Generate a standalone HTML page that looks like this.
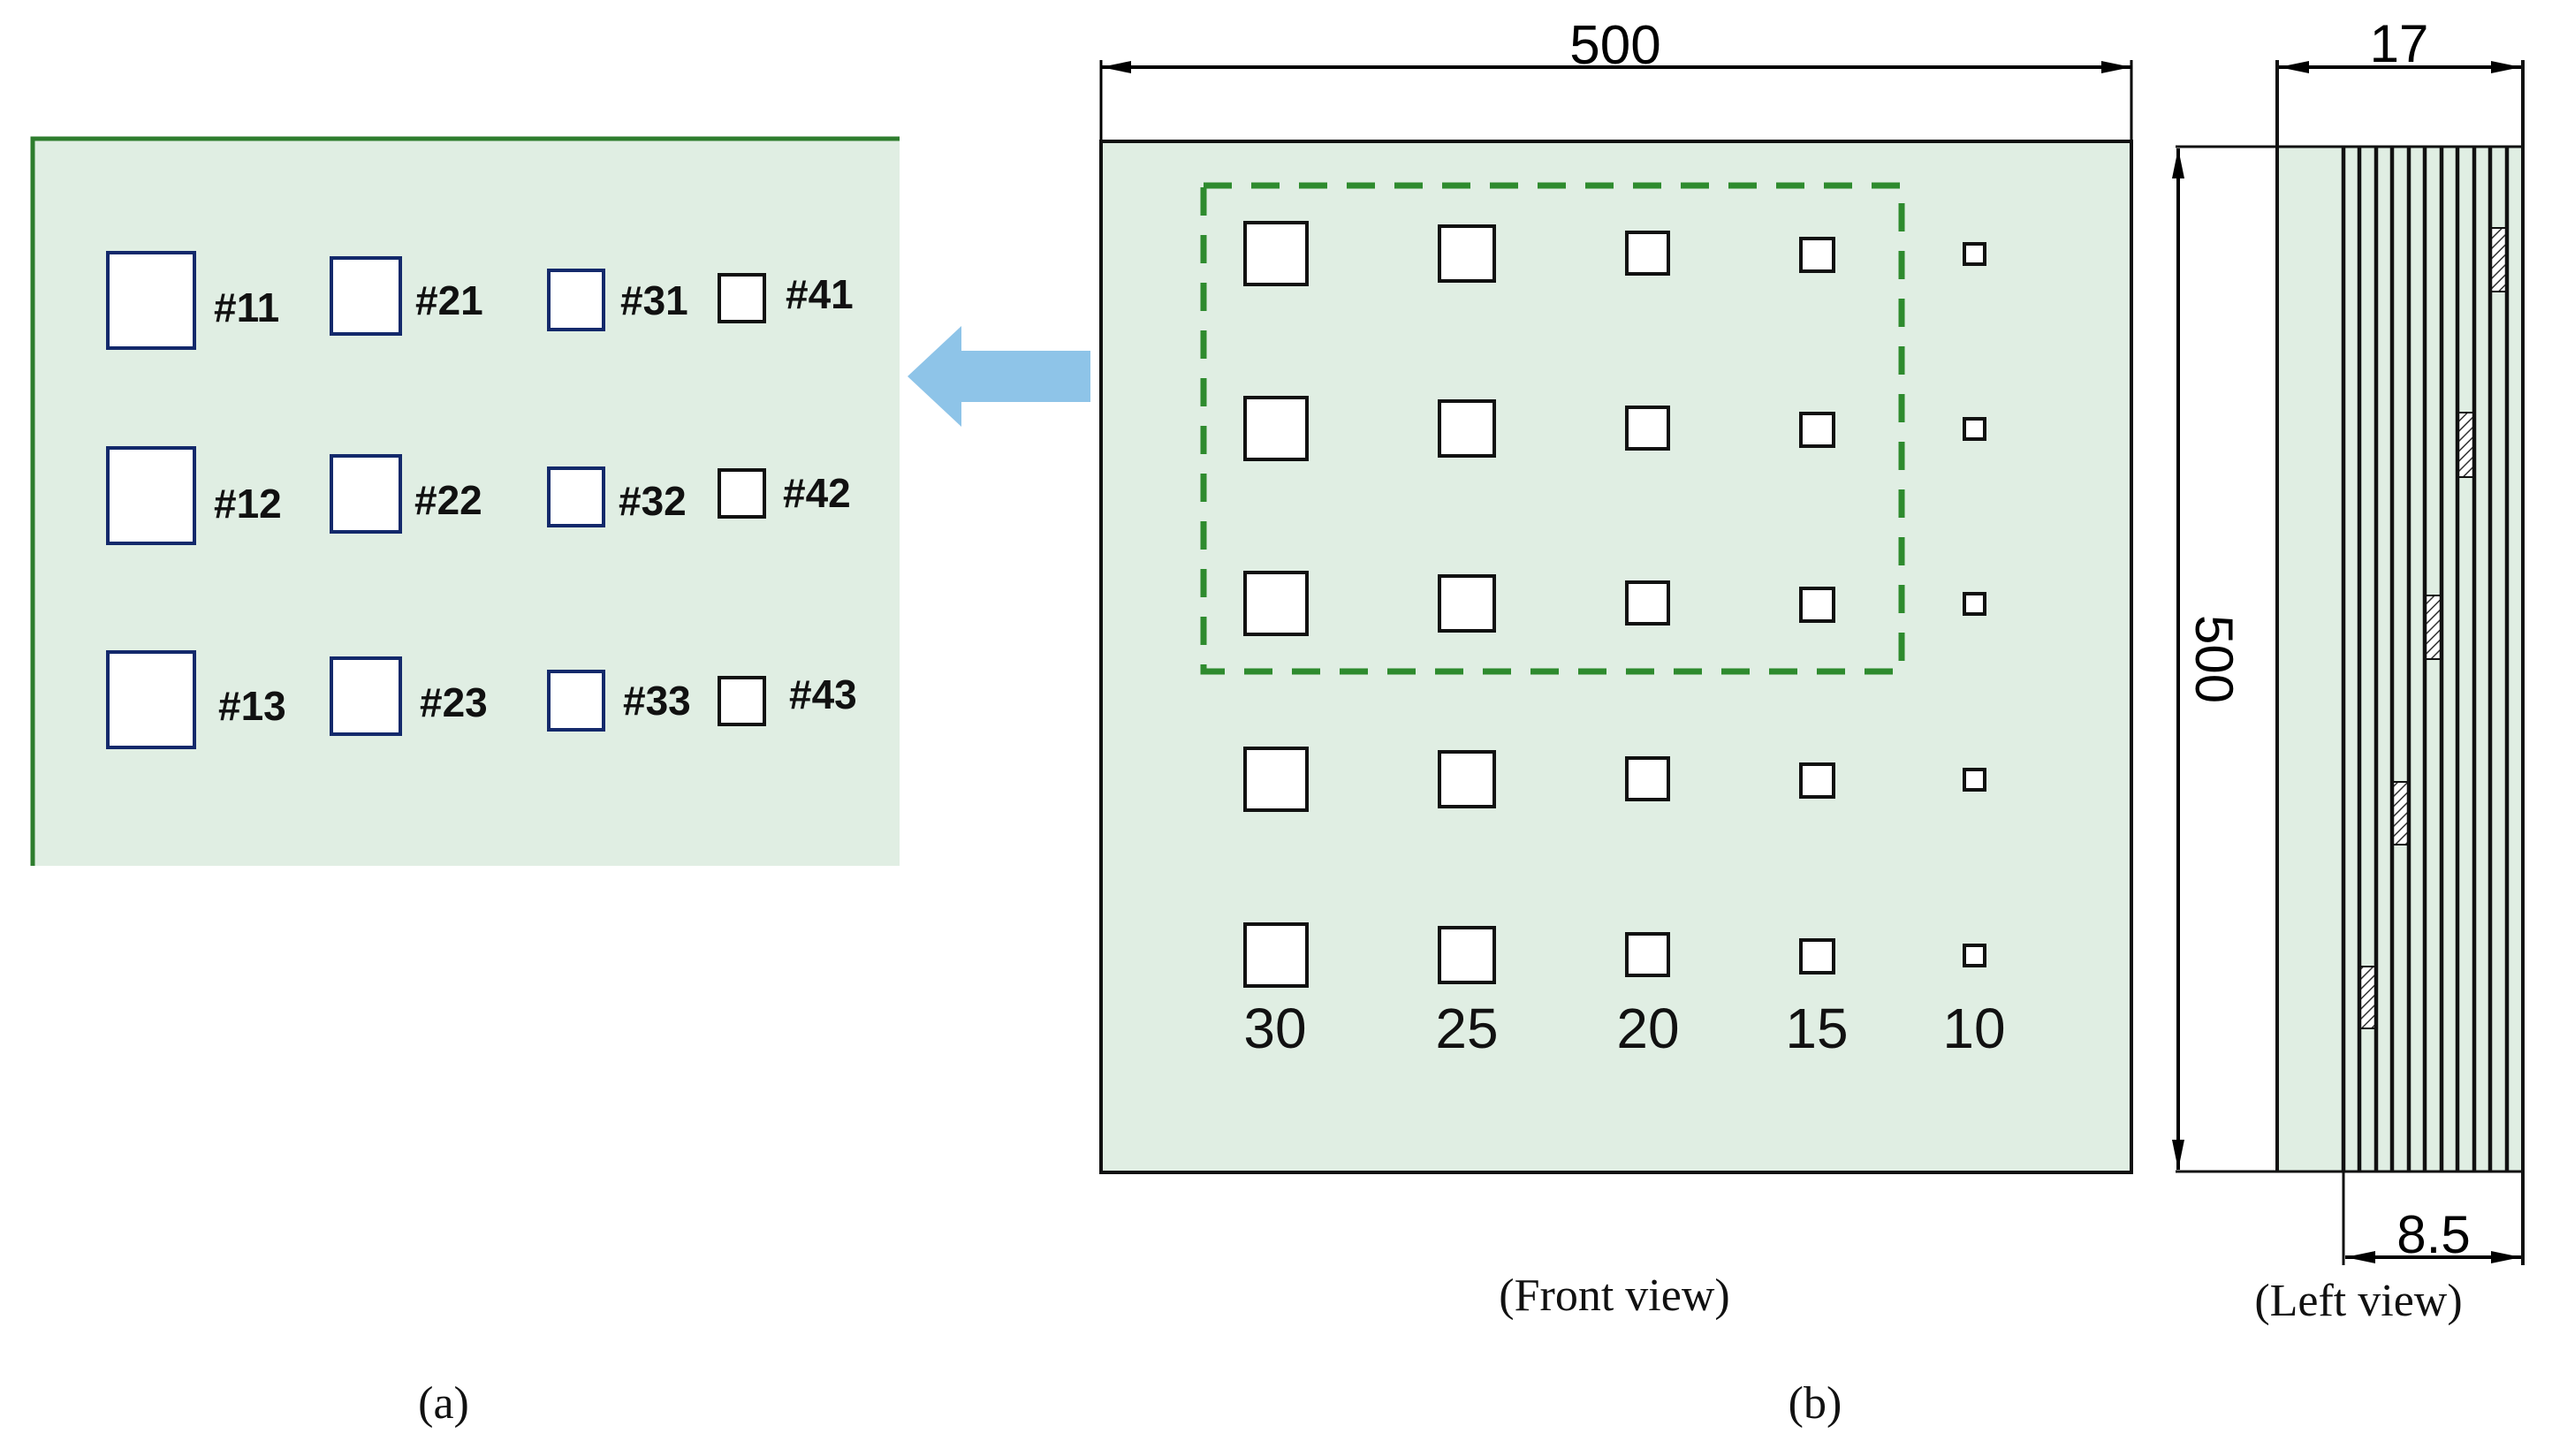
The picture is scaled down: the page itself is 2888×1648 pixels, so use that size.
<!DOCTYPE html>
<html><head><meta charset="utf-8"><style>html,body{margin:0;padding:0;background:#fff}svg{display:block}</style></head>
<body>
<svg width="2888" height="1648" viewBox="0 0 2888 1648" xmlns="http://www.w3.org/2000/svg">
<defs>
<pattern id="h" width="8" height="8" patternUnits="userSpaceOnUse" patternTransform="rotate(45)">
<rect width="8" height="8" fill="#fff"/><line x1="0" y1="0" x2="0" y2="8" stroke="#333" stroke-width="3"/></pattern>
<marker id="a" viewBox="0 0 34 14" refX="34" refY="7" markerWidth="34" markerHeight="14" markerUnits="userSpaceOnUse" orient="auto-start-reverse"><path d="M0,0 L34,7 L0,14 Z" fill="#000"/></marker>
</defs>
<!-- (a) panel -->
<rect x="35" y="157" width="983" height="823" fill="#e0eee3"/>
<path d="M37,980 V157 H1018" fill="none" stroke="#2e7d2e" stroke-width="5"/>
<g transform="translate(0,-5)">
<g fill="#fff" stroke="#13296b" stroke-width="4">
<rect x="122" y="291" width="98" height="108"/><rect x="122" y="512" width="98" height="108"/><rect x="122" y="743" width="98" height="108"/>
<rect x="375" y="297" width="78" height="86"/><rect x="375" y="521" width="78" height="86"/><rect x="375" y="750" width="78" height="86"/>
<rect x="621" y="311" width="62" height="67"/><rect x="621" y="535" width="62" height="65"/><rect x="621" y="765" width="62" height="66"/>
</g>
<g fill="#fff" stroke="#111" stroke-width="4">
<rect x="814" y="316" width="51" height="53"/><rect x="814" y="537" width="51" height="53"/><rect x="814" y="772" width="51" height="53"/>
</g>
<g font-family="Liberation Sans Narrow, Liberation Sans, sans-serif" font-weight="bold" font-size="46" fill="#111">
<text x="242" y="369">#11</text><text x="470" y="361">#21</text><text x="702" y="361">#31</text><text x="889" y="354">#41</text>
<text x="242" y="591">#12</text><text x="469" y="587">#22</text><text x="700" y="588">#32</text><text x="886" y="579">#42</text>
<text x="247" y="820">#13</text><text x="475" y="816">#23</text><text x="705" y="814">#33</text><text x="893" y="807">#43</text>
</g>
</g>
<!-- blue arrow -->
<path d="M1027,426 L1088,369 L1088,397 L1234,397 L1234,455 L1088,455 L1088,483 Z" fill="#8ec4e8"/>
<!-- front view -->
<line x1="1246" y1="76" x2="2412" y2="76" stroke="#000" stroke-width="4" marker-start="url(#a)" marker-end="url(#a)"/>
<line x1="1246" y1="68" x2="1246" y2="160" stroke="#000" stroke-width="3"/>
<line x1="2412" y1="68" x2="2412" y2="160" stroke="#000" stroke-width="3"/>
<text x="1828" y="72" font-family="Liberation Sans Narrow, Liberation Sans, sans-serif" font-size="62" text-anchor="middle">500</text>
<rect x="1246" y="160" width="1166" height="1167" fill="#e0eee3" stroke="#111" stroke-width="4"/>
<rect x="1362" y="210" width="790" height="550" fill="none" stroke="#2e8b2e" stroke-width="7" stroke-dasharray="32,22"/>
<g fill="#fff" stroke="#111" stroke-width="4">
<g id="r">
<rect x="1409" y="252" width="70" height="70"/><rect x="1629" y="256" width="62" height="62"/><rect x="1841" y="263" width="47" height="47"/><rect x="2038" y="270" width="37" height="37"/><rect x="2223" y="276" width="23" height="23"/>
</g>
<use href="#r" y="198"/>
<use href="#r" y="396"/>
<use href="#r" y="595"/>
<use href="#r" y="794"/>
</g>
<g font-family="Liberation Sans Narrow, Liberation Sans, sans-serif" font-size="64" text-anchor="middle" fill="#111">
<text x="1443" y="1186">30</text><text x="1660" y="1186">25</text><text x="1865" y="1186">20</text><text x="2056" y="1186">15</text><text x="2234" y="1186">10</text>
</g>
<g font-family="Liberation Serif, serif" font-size="52" text-anchor="middle" fill="#111">
<text x="1827" y="1483">(Front view)</text>
<text x="2669" y="1489">(Left view)</text>
<text x="2054" y="1605">(b)</text>
<text x="502" y="1605">(a)</text>
</g>
<!-- left view -->
<rect x="2577" y="166" width="278" height="1160" fill="#e0eee3"/>
<line x1="2462" y1="166" x2="2855" y2="166" stroke="#111" stroke-width="3"/>
<line x1="2462" y1="1326" x2="2855" y2="1326" stroke="#111" stroke-width="3"/>
<line x1="2465" y1="168" x2="2465" y2="1324" stroke="#000" stroke-width="4" marker-start="url(#a)" marker-end="url(#a)"/>
<text transform="translate(2485,746) rotate(90)" font-family="Liberation Sans Narrow, Liberation Sans, sans-serif" font-size="60" text-anchor="middle">500</text>
<line x1="2577" y1="68" x2="2577" y2="1326" stroke="#111" stroke-width="4"/>
<line x1="2855" y1="68" x2="2855" y2="1432" stroke="#111" stroke-width="4"/>
<line x1="2579" y1="76" x2="2853" y2="76" stroke="#000" stroke-width="4" marker-start="url(#a)" marker-end="url(#a)"/>
<text x="2715" y="70" font-family="Liberation Sans Narrow, Liberation Sans, sans-serif" font-size="60" text-anchor="middle">17</text>
<line x1="2652" y1="1326" x2="2652" y2="1432" stroke="#111" stroke-width="3"/>
<line x1="2654" y1="1423" x2="2853" y2="1423" stroke="#000" stroke-width="4" marker-start="url(#a)" marker-end="url(#a)"/>
<text x="2754" y="1418" font-family="Liberation Sans Narrow, Liberation Sans, sans-serif" font-size="60" text-anchor="middle">8.5</text>
<g fill="url(#h)" stroke="#111" stroke-width="2">
<rect x="2670" y="1094" width="18" height="70"/>
<rect x="2707" y="885" width="18" height="71"/>
<rect x="2744" y="674" width="18" height="72"/>
<rect x="2781" y="467" width="18" height="73"/>
<rect x="2818" y="258" width="18" height="72"/>
</g>
<g stroke="#111" stroke-width="4.5">
<line x1="2652" y1="166" x2="2652" y2="1326"/><line x1="2670" y1="166" x2="2670" y2="1326"/><line x1="2689" y1="166" x2="2689" y2="1326"/>
<line x1="2707" y1="166" x2="2707" y2="1326"/><line x1="2726" y1="166" x2="2726" y2="1326"/><line x1="2744" y1="166" x2="2744" y2="1326"/>
<line x1="2763" y1="166" x2="2763" y2="1326"/><line x1="2781" y1="166" x2="2781" y2="1326"/><line x1="2800" y1="166" x2="2800" y2="1326"/>
<line x1="2818" y1="166" x2="2818" y2="1326"/><line x1="2837" y1="166" x2="2837" y2="1326"/>
</g>
</svg>
</body></html>
